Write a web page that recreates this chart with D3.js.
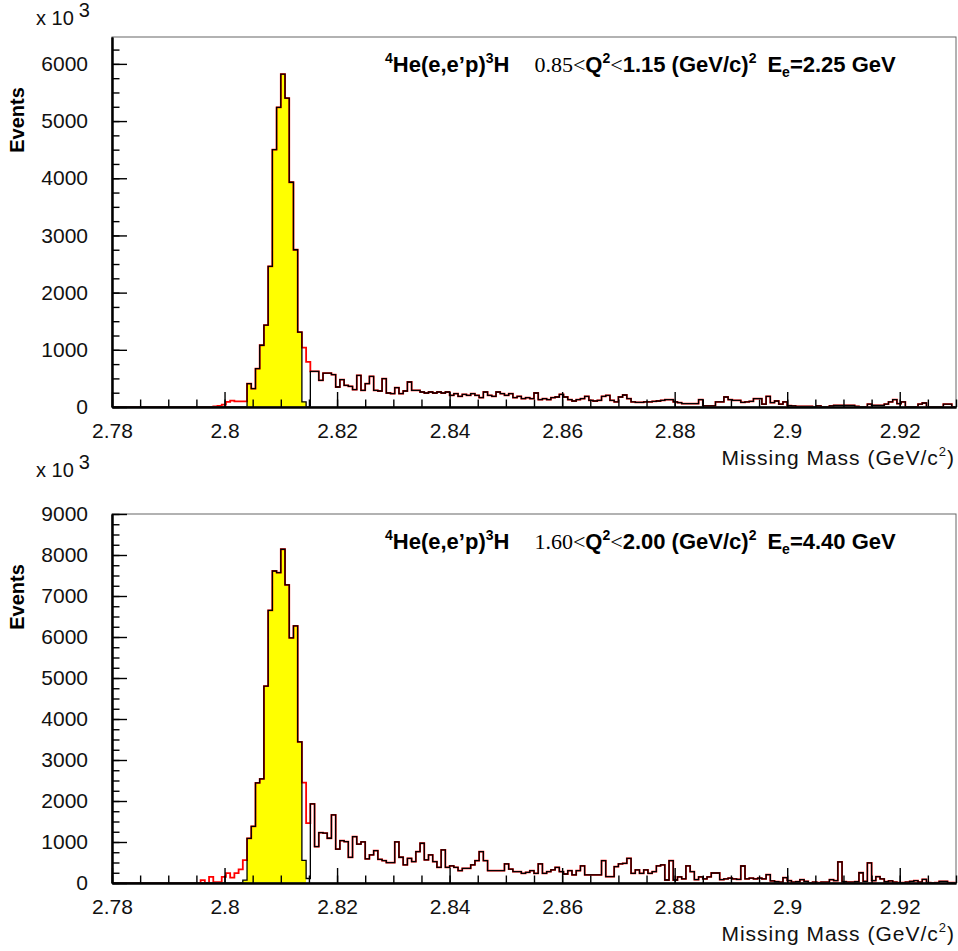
<!DOCTYPE html>
<html>
<head>
<meta charset="utf-8">
<script src="https://cdn.jsdelivr.net/npm/d3@7"></script>
<style>
  html, body { margin: 0; padding: 0; background: #fff; }
  svg { display: block; }
</style>
</head>
<body>
<svg id="chart" width="958" height="951"></svg>
<script>
// Missing-mass spectra for 4He(e,e'p)3H: 200 bins of 0.75 MeV/c^2 from 2.78 to 2.93 GeV/c^2
const xMin = 2.78, xMax = 2.93, nBins = 200;
const xTickValues = [2.78, 2.80, 2.82, 2.84, 2.86, 2.88, 2.90, 2.92];
const xTickLabels = ["2.78", "2.8", "2.82", "2.84", "2.86", "2.88", "2.9", "2.92"];

// ---- upper panel: 0.85 < Q^2 < 1.15, E = 2.25 GeV ----
const topYTicks = [0, 1000, 2000, 3000, 4000, 5000, 6000];
const topYMax = 6470;
const topPeakStart = 32;   // first bin of the 3H peak (filled)
const topPeak = [410, 320, 670, 1080, 1430, 2460, 4500, 5240, 5820, 5400, 3930, 2750, 1310, 90];
const topTailStart = 47;   // first bin of the continuum
const topTail = [
  623, 623, 466, 594, 594, 565, 350, 478, 379, 361, 303, 553, 292, 408, 536, 292, 280, 495, 245, 233,
  338, 233, 280, 437, 292, 292, 262, 245, 262, 245, 262, 245, 262, 204, 233, 187, 222, 204, 233, 204,
  164, 262, 204, 187, 262, 233, 204, 233, 164, 187, 146, 164, 146, 245, 129, 146, 129, 164, 175, 222,
  175, 129, 105, 129, 146, 187, 117, 105, 117, 187, 204, 117, 88, 175, 210, 146, 88, 82, 82, 88,
  88, 100, 105, 117, 129, 129, 88, 76, 59, 59, 59, 59, 129, 20, 20, 20, 88, 88, 175, 129,
  117, 117, 82, 88, 100, 146, 146, 50, 187, 76, 105, 50, 88, 25, 20, 10, 10, 10, 10, 0,
  20, 0, 0, 20, 30, 30, 30, 30, 30, 10, 0, 0, 50, 30, 30, 30, 50, 88, 129, 59,
  88, 0, 0, 0, 50, 70, 0, 0, 0, 0, 50, 50, 0
];
const topRedLowStart = 24;      // red histogram below the peak
const topRedLow = [10, 20, 40, 90, 110, 100, 100, 100];
const topRedShoulderStart = 45; // red histogram just above the peak
const topRedShoulder = [1040, 790];

// ---- lower panel: 1.60 < Q^2 < 2.00, E = 4.40 GeV ----
const botYTicks = [0, 1000, 2000, 3000, 4000, 5000, 6000, 7000, 8000, 9000];
const botYMax = 9000;
const botPeakStart = 31;
const botPeak = [70, 1090, 1380, 2440, 2540, 4800, 6650, 7610, 7570, 8140, 7270, 5980, 6270, 3440, 550];
const botGapStart = 46;
const botGap = [110];
const botTailStart = 47;
const botTail = [
  1930, 889, 1231, 1215, 1092, 1663, 824, 1035, 1011, 627, 1133, 946, 1003, 587, 685, 790, 578, 546, 497, 497,
  1003, 628, 440, 603, 522, 766, 970, 562, 685, 522, 383, 807, 383, 416, 383, 302, 359, 359, 440, 546,
  766, 546, 302, 302, 302, 302, 465, 340, 277, 277, 236, 261, 302, 236, 465, 236, 277, 318, 383, 277,
  220, 302, 196, 302, 416, 196, 196, 196, 196, 546, 155, 155, 400, 465, 481, 603, 236, 318, 236, 318,
  236, 277, 420, 440, 73, 546, 73, 150, 100, 420, 277, 80, 150, 100, 150, 244, 244, 80, 100, 120,
  100, 90, 415, 100, 120, 100, 120, 100, 204, 50, 30, 20, 130, 60, 20, 30, 80, 40, 0, 20,
  10, 20, 20, 80, 60, 513, 30, 20, 20, 30, 250, 40, 490, 60, 155, 100, 30, 50, 20, 10,
  10, 20, 40, 60, 20, 90, 10, 0, 10, 40, 40, 10, 10
];
const botRedLowStart = 21;
const botRedLow = [70, 0, 150, 20, 20, 150, 240, 130, 240, 330, 560];
const botRedShoulderStart = 45;
const botRedShoulder = [2450, 1460];

const binW = (xMax - xMin) / nBins;

function place(target, start, values) {
  values.forEach((v, i) => { target[start + i] = v; });
  return target;
}

function buildSeries(p) {
  const black = new Array(nBins).fill(0);
  place(black, p.peakStart, p.peak);
  if (p.gap) place(black, p.gapStart, p.gap);
  place(black, p.tailStart, p.tail);
  const red = black.slice();
  place(red, p.redLowStart, p.redLow);
  place(red, p.redShoulderStart, p.redShoulder);
  return { black, red };
}

// outline of a histogram as a list of [mass, counts] corner points
function stepPoints(vals, from, to) {
  const pts = [[xMin + from * binW, 0]];
  for (let i = from; i < to; i++) {
    pts.push([xMin + i * binW, vals[i]]);
    pts.push([xMin + (i + 1) * binW, vals[i]]);
  }
  pts.push([xMin + to * binW, 0]);
  return pts;
}

const svg = d3.select("#chart");
const left = 112, right = 956;
const x = d3.scaleLinear().domain([xMin, xMax]).range([left, right]);
const minorX = d3.range(0, 31).map(k => xMin + k * 0.005);

const SANS = "'Liberation Sans', Arial, Helvetica, sans-serif";
const SERIF = "'Liberation Serif', 'Times New Roman', serif";

function drawPanel(p) {
  const { black, red } = buildSeries(p);
  const y = d3.scaleLinear().domain([0, p.yMax]).range([p.y1, p.y0]);
  const g = svg.append("g");

  const line = d3.line().x(d => x(d[0])).y(d => y(d[1]));
  const area = d3.area().x(d => x(d[0])).y0(y(0)).y1(d => y(d[1]));

  // filled peak
  const peakEnd = p.peakStart + p.peak.length;
  g.append("path")
    .attr("d", area(stepPoints(black, p.peakStart, peakEnd)))
    .attr("fill", "#ffff00").attr("stroke", "none");

  // red histogram underneath, black on top
  g.append("path")
    .attr("d", line(stepPoints(red, 0, nBins)))
    .attr("fill", "none").attr("stroke", "#ff0000").attr("stroke-width", 1.8)
    .attr("stroke-linejoin", "miter");
  g.append("path")
    .attr("d", line(stepPoints(black, 0, nBins)))
    .attr("fill", "none").attr("stroke", "#000").attr("stroke-width", 1.3)
    .attr("stroke-linejoin", "miter");

  // frame
  g.append("rect")
    .attr("x", left).attr("y", p.y0).attr("width", right - left).attr("height", p.y1 - p.y0)
    .attr("fill", "none").attr("stroke", "#666").attr("stroke-width", 1);

  // x axis: minor and major ticks pointing into the frame
  const gxMinor = g.append("g").attr("transform", `translate(0,${p.y1})`)
    .call(d3.axisBottom(x).tickValues(minorX).tickSizeInner(-7.5).tickSizeOuter(0).tickFormat(""));
  const gx = g.append("g").attr("transform", `translate(0,${p.y1})`)
    .call(d3.axisBottom(x).tickValues(xTickValues).tickSizeInner(-15).tickSizeOuter(0)
      .tickPadding(16).tickFormat((d, i) => xTickLabels[i]));

  // y axis
  const yMinor = d3.range(0, p.yMax + 1, 250);
  const gyMinor = g.append("g").attr("transform", `translate(${left},0)`)
    .call(d3.axisLeft(y).tickValues(yMinor).tickSizeInner(-7.5).tickSizeOuter(0).tickFormat(""));
  const gy = g.append("g").attr("transform", `translate(${left},0)`)
    .call(d3.axisLeft(y).tickValues(p.yTicks).tickSizeInner(-15).tickSizeOuter(0)
      .tickPadding(24).tickFormat(d3.format("d")));

  [gxMinor, gx, gyMinor, gy].forEach(a => {
    a.select(".domain").attr("stroke", "#000").attr("stroke-width", 2);
    a.selectAll(".tick line").attr("stroke", "#000").attr("stroke-width", 1.4);
    a.selectAll("text").attr("font-family", SANS).attr("font-size", 21).attr("fill", "#111");
  });

  // exponent marker
  const ex = g.append("text").attr("x", 36).attr("y", p.expY)
    .attr("font-family", SANS).attr("font-size", 20).attr("fill", "#111");
  ex.append("tspan").text("x 10");
  ex.append("tspan").attr("dx", 5).attr("dy", -8).text("3");

  // y title
  g.append("text")
    .attr("transform", `translate(24,${p.y0 + 83}) rotate(-90)`)
    .attr("text-anchor", "middle")
    .attr("font-family", SANS).attr("font-weight", "bold").attr("font-size", 20)
    .text("Events");

  // x title
  const xt = g.append("text").attr("x", 955).attr("y", p.y1 + 58)
    .attr("text-anchor", "end").attr("font-family", SANS).attr("font-size", 21)
    .attr("letter-spacing", 1).attr("fill", "#111");
  xt.append("tspan").text("Missing Mass (GeV/c");
  xt.append("tspan").attr("font-size", 13).attr("dy", -9).text("2");
  xt.append("tspan").attr("dy", 9).text(")");

  // reaction / kinematics label
  const t = g.append("text").attr("x", 385).attr("y", p.y0 + 35)
    .attr("font-family", SANS).attr("font-weight", "bold").attr("font-size", 22);
  t.append("tspan").attr("font-size", 14).attr("dy", -9).text("4");
  t.append("tspan").attr("dy", 9).text("He(e,e\u2019p)");
  t.append("tspan").attr("font-size", 14).attr("dy", -9).text("3");
  t.append("tspan").attr("dy", 9).text("H");
  t.append("tspan").attr("dx", 25).attr("font-family", SERIF).attr("font-weight", "normal").text(p.q2lo + "<");
  t.append("tspan").text("Q");
  t.append("tspan").attr("font-size", 14).attr("dy", -9).text("2");
  t.append("tspan").attr("dy", 9).attr("font-family", SERIF).attr("font-weight", "normal").text("<");
  t.append("tspan").text(p.q2hi + " (GeV/c)");
  t.append("tspan").attr("font-size", 14).attr("dy", -9).text("2");
  t.append("tspan").attr("dx", 11).attr("dy", 9).text("E");
  t.append("tspan").attr("font-size", 14).attr("dy", 5).text("e");
  t.append("tspan").attr("dy", -5).text("=" + p.ee + " GeV");
}

drawPanel({
  y0: 37, y1: 407, yMax: topYMax, yTicks: topYTicks, expY: 25,
  peakStart: topPeakStart, peak: topPeak,
  tailStart: topTailStart, tail: topTail,
  redLowStart: topRedLowStart, redLow: topRedLow,
  redShoulderStart: topRedShoulderStart, redShoulder: topRedShoulder,
  q2lo: "0.85", q2hi: "1.15", ee: "2.25"
});

drawPanel({
  y0: 514, y1: 883, yMax: botYMax, yTicks: botYTicks, expY: 477,
  peakStart: botPeakStart, peak: botPeak,
  gapStart: botGapStart, gap: botGap,
  tailStart: botTailStart, tail: botTail,
  redLowStart: botRedLowStart, redLow: botRedLow,
  redShoulderStart: botRedShoulderStart, redShoulder: botRedShoulder,
  q2lo: "1.60", q2hi: "2.00", ee: "4.40"
});
</script>
</body>
</html>
